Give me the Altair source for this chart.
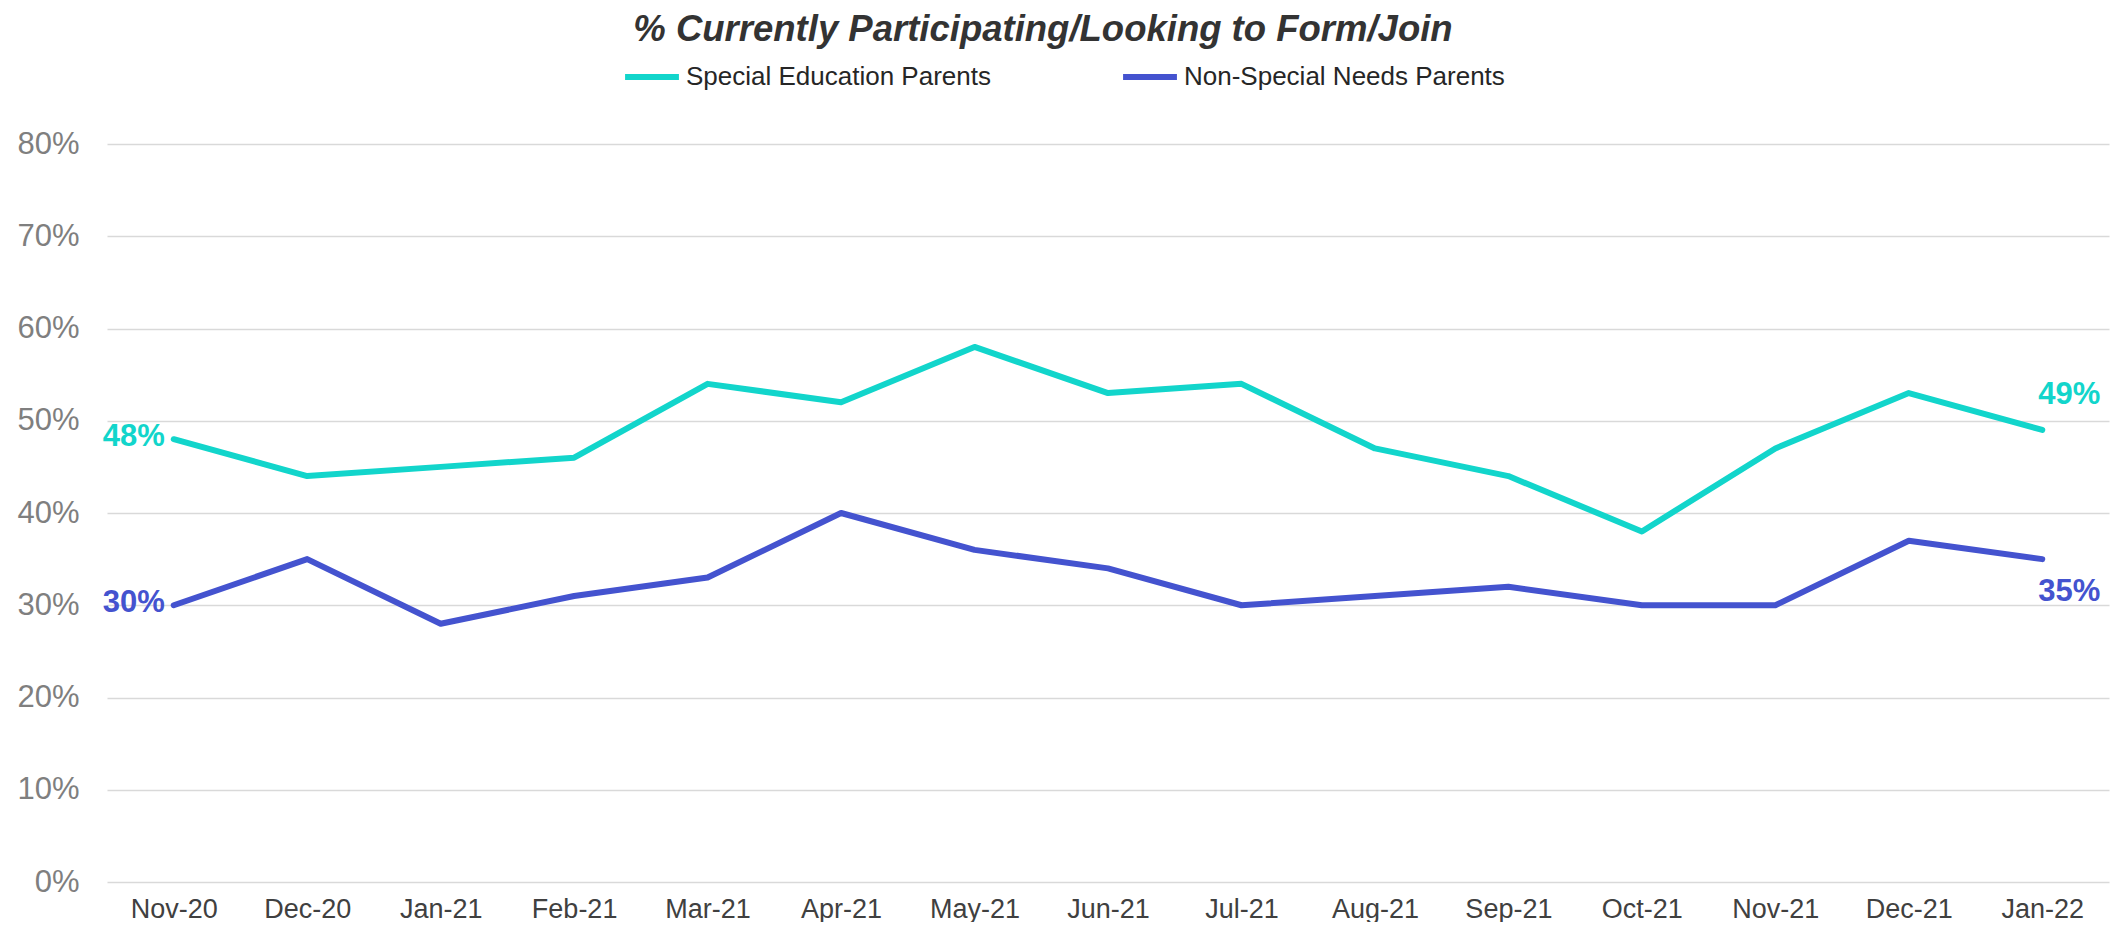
import altair as alt
import pandas as pd

months = ["Nov-20", "Dec-20", "Jan-21", "Feb-21", "Mar-21", "Apr-21", "May-21", "Jun-21",
          "Jul-21", "Aug-21", "Sep-21", "Oct-21", "Nov-21", "Dec-21", "Jan-22"]
series_names = ["Special Education Parents", "Non-Special Needs Parents"]
special_ed = [0.48, 0.44, 0.45, 0.46, 0.54, 0.52, 0.58, 0.53, 0.54, 0.47, 0.44, 0.38, 0.47, 0.53, 0.49]
non_special = [0.30, 0.35, 0.28, 0.31, 0.33, 0.40, 0.36, 0.34, 0.30, 0.31, 0.32, 0.30, 0.30, 0.37, 0.35]
y_ticks = [0, 0.1, 0.2, 0.3, 0.4, 0.5, 0.6, 0.7, 0.8]
colors = ["#12D5CB", "#4453CF"]

rows = []
for name, vals in zip(series_names, [special_ed, non_special]):
    for m, v in zip(months, vals):
        rows.append({"month": m, "series": name, "value": v})
df = pd.DataFrame(rows)

FONT = "Liberation Sans"

x = alt.X("month:O", sort=months, scale=alt.Scale(type="point", padding=0.5),
          axis=alt.Axis(title=None, labelAngle=0, ticks=False, domain=False, grid=False,
                        labelFontSize=27, labelColor="#404040", labelPadding=14, labelFont=FONT))
y = alt.Y("value:Q", scale=alt.Scale(domain=[0, 0.8]),
          axis=alt.Axis(title=None, format=".0%", values=y_ticks, grid=True, gridColor="#d9d9d9",
                        gridWidth=1.5, domain=False, ticks=False, labelFontSize=31,
                        labelColor="#7f7f7f", labelPadding=28, labelFont=FONT))
label_color = alt.Color("series:N", scale=alt.Scale(domain=series_names, range=colors), legend=None)
color = alt.Color("series:N", sort=series_names,
                  scale=alt.Scale(domain=series_names, range=colors),
                  legend=alt.Legend(title=None, orient="none", direction="horizontal",
                                    legendX=515, legendY=-97, symbolType="stroke",
                                    symbolSize=2900, symbolStrokeWidth=6, labelFontSize=26,
                                    labelColor="#262626", labelFont=FONT, labelOffset=4,
                                    labelLimit=0, columnPadding=120))

base = alt.Chart(df)

lines = base.mark_line(strokeWidth=6, strokeCap="round", strokeJoin="round").encode(
    x=x, y=y, color=color)

first_labels = base.transform_filter(alt.datum.month == months[0]).mark_text(
    align="right", baseline="middle", dx=-9, dy=-2, fontSize=31, fontWeight="bold", font=FONT
).encode(x=x, y=y, color=label_color, text=alt.Text("value:Q", format=".0%"))

last_top = base.transform_filter(
    (alt.datum.month == months[-1]) & (alt.datum.series == series_names[0])
).mark_text(align="left", baseline="middle", dx=-4, dy=-35, fontSize=31, fontWeight="bold", font=FONT
).encode(x=x, y=y, color=label_color, text=alt.Text("value:Q", format=".0%"))

last_bottom = base.transform_filter(
    (alt.datum.month == months[-1]) & (alt.datum.series == series_names[1])
).mark_text(align="left", baseline="middle", dx=-4, dy=33, fontSize=31, fontWeight="bold", font=FONT
).encode(x=x, y=y, color=label_color, text=alt.Text("value:Q", format=".0%"))

chart = alt.layer(lines, first_labels, last_top, last_bottom).properties(
    width=2002, height=738,
    background="white",
    title=alt.TitleParams("% Currently Participating/Looking to Form/Join", anchor="middle",
                          fontSize=36.5, fontWeight="bold", fontStyle="italic", color="#333333",
                          font=FONT, dx=-65, dy=5),
    autosize=alt.AutoSizeParams(type="none"),
    padding={"left": 99, "top": 136, "right": 4, "bottom": 40},
).configure_view(strokeWidth=0, stroke=None)

chart.save("out.html", embed_options={"renderer": "svg", "actions": False})
